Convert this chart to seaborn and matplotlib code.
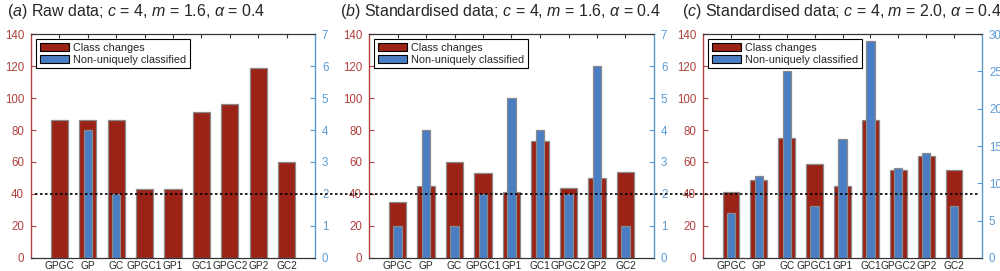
import matplotlib
matplotlib.use("Agg")
import matplotlib.pyplot as plt
import matplotlib.transforms as mtransforms
from matplotlib.lines import Line2D
import seaborn as sns
import pandas as pd

categories = ["GPGC", "GP", "GC", "GPGC1", "GP1", "GC1", "GPGC2", "GP2", "GC2"]

class_changes_a = [86, 86, 86, 43, 43, 91, 96, 119, 60]
non_unique_a = [0, 4, 2, 0, 0, 0, 0, 0, 0]
class_changes_b = [35, 45, 60, 53, 41, 73, 44, 50, 54]
non_unique_b = [1, 4, 1, 2, 5, 4, 2, 6, 1]
class_changes_c = [41, 49, 75, 59, 45, 86, 55, 64, 55]
non_unique_c = [6, 11, 25, 7, 16, 29, 12, 14, 7]

titles = [
    r"($\it{a}$) Raw data; $\it{c}$ = 4, $\it{m}$ = 1.6, $\it{α}$ = 0.4",
    r"($\it{b}$) Standardised data; $\it{c}$ = 4, $\it{m}$ = 1.6, $\it{α}$ = 0.4",
    r"($\it{c}$) Standardised data; $\it{c}$ = 4, $\it{m}$ = 2.0, $\it{α}$ = 0.4",
]
left_ticks = [0, 20, 40, 60, 80, 100, 120, 140]
right_ticks = [[0, 1, 2, 3, 4, 5, 6, 7], [0, 1, 2, 3, 4, 5, 6, 7], [0, 5, 10, 15, 20, 25, 30]]
threshold = 40

sns.set_style("white")
plt.rcParams["font.family"] = ["Liberation Sans", "DejaVu Sans"]
plt.rcParams["mathtext.fontset"] = "custom"
plt.rcParams["mathtext.rm"] = "Liberation Sans"
plt.rcParams["mathtext.it"] = "Liberation Sans:italic"

RED = "#9b2217"
BLUE = "#4a7ec4"
RED_AX = "#b0413e"
BLUE_AX = "#5b9bd5"

fig = plt.figure(figsize=(10, 2.71), dpi=100)
positions = [(0.031, 0.284), (0.369, 0.285), (0.703, 0.279)]
bottom, height = 0.048, 0.8265
title_x = [0.007, 0.340, 0.682]

datasets = [
    (class_changes_a, non_unique_a),
    (class_changes_b, non_unique_b),
    (class_changes_c, non_unique_c),
]

axes = []
for i, ((red_vals, blue_vals), (lx, w)) in enumerate(zip(datasets, positions)):
    ax = fig.add_axes([lx, bottom, w, height])
    df = pd.DataFrame({"cat": categories, "cc": red_vals, "nu": blue_vals})
    sns.barplot(data=df, x="cat", y="cc", ax=ax, color=RED, saturation=1,
                width=0.6, edgecolor="#8a8a8a", linewidth=0.9,
                label="Class changes")
    ax2 = ax.twinx()
    sns.barplot(data=df, x="cat", y="nu", ax=ax2, color=BLUE, saturation=1,
                width=0.3, edgecolor="#8a8a8a", linewidth=0.9,
                label="Non-uniquely classified")
    ax.set_xlim(-1.0, 9.0)
    ax.set_ylim(0, 140)
    ax2.set_ylim(0, right_ticks[i][-1])
    ax.set_yticks(left_ticks)
    ax2.set_yticks(right_ticks[i])
    ax.set_xlabel("")
    ax.set_ylabel("")
    ax2.set_ylabel("")
    ax.tick_params(axis="x", direction="in", top=True, bottom=True, length=3,
                   width=0.8, color="#333333", labelsize=7.3, pad=2)
    ax.tick_params(axis="y", direction="in", left=True, length=3.5, width=0.8,
                   color=RED_AX, labelcolor=RED_AX, labelsize=8.3, pad=5)
    ax2.tick_params(axis="y", direction="in", right=True, length=3.5, width=0.8,
                    color=BLUE_AX, labelcolor=BLUE_AX, labelsize=8.3, pad=5)
    for a in (ax, ax2):
        a.spines["top"].set_color("#333333")
        a.spines["bottom"].set_color("#333333")
        a.spines["top"].set_linewidth(0.8)
        a.spines["bottom"].set_linewidth(0.8)
    ax.spines["left"].set_color(RED_AX)
    ax.spines["left"].set_linewidth(1.0)
    ax.spines["right"].set_visible(False)
    ax2.spines["left"].set_visible(False)
    ax2.spines["right"].set_color(BLUE_AX)
    ax2.spines["right"].set_linewidth(1.0)
    h1, l1 = ax.get_legend_handles_labels()
    h2, l2 = ax2.get_legend_handles_labels()
    if ax.get_legend() is not None:
        ax.get_legend().remove()
    leg = ax2.legend(h1[:1] + h2[:1], l1[:1] + l2[:1], loc="upper left",
                     fontsize=7.8, frameon=True, fancybox=False,
                     edgecolor="black", framealpha=1, handlelength=2.7,
                     handleheight=0.8, labelspacing=0.18, borderpad=0.3,
                     handletextpad=0.4, borderaxespad=0.5)
    leg.get_frame().set_linewidth(0.8)
    for hnd in leg.legend_handles:
        hnd.set_edgecolor("black")
        hnd.set_linewidth(0.8)
    fig.text(title_x[i], 1 - 2 / 271, titles[i], ha="left", va="top", fontsize=11.5)
    axes.append((ax, ax2))

# dotted threshold line across the figure (drawn above all axes)
ax0 = axes[0][0]
trans = mtransforms.blended_transform_factory(fig.transFigure, ax0.transData)
line = Line2D([0.035, 0.980], [threshold, threshold], transform=trans, color="black",
              linestyle=(0, (1.5, 1.5)), linewidth=1.2, zorder=10)
fig.add_artist(line)

fig.savefig("out.png", dpi=100)
